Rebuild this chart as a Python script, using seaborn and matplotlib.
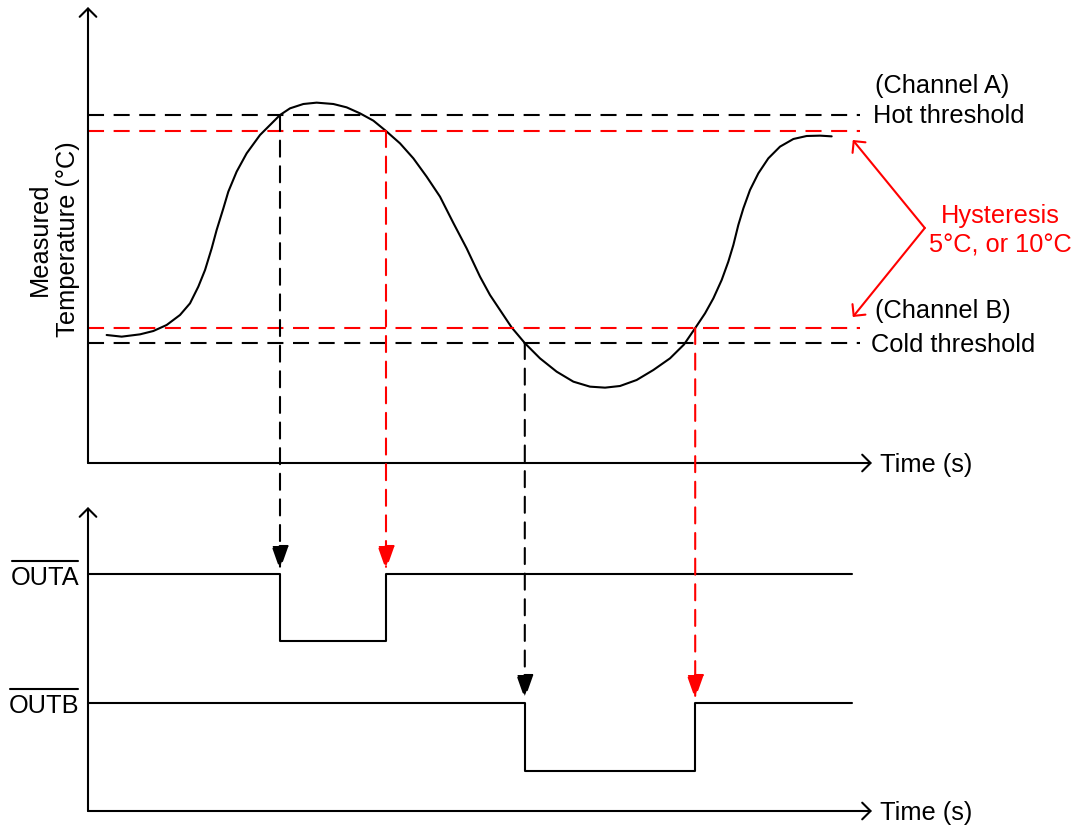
import matplotlib
matplotlib.use("Agg")
import matplotlib.pyplot as plt
import seaborn as sns
import pandas as pd
from matplotlib.patches import ConnectionPatch
from matplotlib.lines import Line2D

# ---------------- data ----------------
# measured temperature curve (time in s, temperature in degC, arbitrary units)
time_s = [2.33, 4.21, 6.5, 8.17, 9.83, 11.5, 12.75, 13.79, 14.63, 15.46, 16.08, 16.92,
          17.54, 18.58, 19.83, 21.5, 22.96, 24.0, 25.25, 26.92, 28.58, 30.67, 32.33,
          34.0, 35.67, 37.25, 39.0, 40.67, 42.33, 44.0, 45.67, 47.33, 49.0, 50.25,
          51.5, 52.96, 54.63, 56.5, 58.58, 60.67, 62.75, 64.63, 66.5, 68.58, 70.67,
          72.75, 74.5, 75.88, 77.13, 78.17, 79.21, 80.04, 80.67, 81.29, 81.92, 82.75,
          83.79, 85.04, 86.5, 88.17, 89.83, 91.5, 92.96]
temp_c = [25.6, 25.27, 25.73, 26.4, 27.6, 29.6, 31.93, 35.27, 38.6, 42.93, 46.6, 50.93,
          54.27, 58.27, 61.93, 65.6, 67.93, 69.6, 70.93, 71.8, 72.07, 71.8, 71.13,
          69.93, 68.47, 66.4, 63.93, 60.93, 57.27, 53.27, 48.0, 42.93, 37.27, 33.6,
          30.6, 27.1, 23.93, 20.93, 18.27, 16.27, 15.27, 15.07, 15.4, 16.6, 18.6,
          20.93, 23.7, 26.93, 29.93, 32.93, 36.6, 40.27, 43.6, 47.6, 50.93, 54.6,
          57.93, 60.93, 63.27, 64.8, 65.4, 65.47, 65.33]

# thresholds (black = trip, red = trip minus hysteresis)
hot_threshold = 69.6
hot_release = 66.4
cold_threshold = 24.0
cold_release = 27.0
threshold_span = [0.0, 96.5]

# crossing times
hot_trip_t = 24.0
hot_release_t = 37.25
cold_trip_t = 54.6
cold_release_t = 75.9

# digital outputs (step signals)
outa_t = [0.0, hot_trip_t, hot_release_t, 95.5]
outa_level = [23.7, 17.0, 23.7, 23.7]
outb_t = [0.0, cold_trip_t, cold_release_t, 95.5]
outb_level = [10.8, 4.0, 10.8, 10.8]

# ---------------- style ----------------
sns.set_theme(style="white")
plt.rcParams["font.family"] = ["Liberation Sans", "DejaVu Sans"]
plt.rcParams["text.color"] = "black"

FS = 18.3
LW = 1.5
RED = "#ff0000"
DASH = (7.7, 4.6)

W, H = 1078, 825
fig = plt.figure(figsize=(W / 100, H / 100), dpi=100)
ax_top = fig.add_axes([88 / W, 1 - 463 / H, 784 / W, 456 / H])
ax_bot = fig.add_axes([88 / W, 1 - 811 / H, 784 / W, 304 / H])

ax_top.set_xlim(0, 98)
ax_top.set_ylim(0, 91.2)
ax_bot.set_xlim(0, 98)
ax_bot.set_ylim(0, 30.4)
for ax in (ax_top, ax_bot):
    ax.set_axis_off()
    arrow_kw = dict(arrowstyle="->,head_length=6,head_width=6", mutation_scale=1,
                    lw=LW, color="black", shrinkA=0, shrinkB=0)
    ax.annotate("", xy=(0, 1), xytext=(0, 0), xycoords="axes fraction",
                arrowprops=arrow_kw, annotation_clip=False)
    ax.annotate("", xy=(1, 0), xytext=(0, 0), xycoords="axes fraction",
                arrowprops=arrow_kw, annotation_clip=False)

# temperature curve
curve = pd.DataFrame({"time": time_s, "temp": temp_c})
sns.lineplot(data=curve, x="time", y="temp", ax=ax_top, color="black", lw=LW,
             sort=False, estimator=None, clip_on=False,
             solid_joinstyle="round", solid_capstyle="round")

# threshold lines
for level, col in [(hot_threshold, "black"), (hot_release, RED),
                   (cold_release, RED), (cold_threshold, "black")]:
    ax_top.plot(threshold_span, [level, level], color=col, lw=LW, dashes=DASH,
                clip_on=False)

# digital signals
sns.lineplot(x=outa_t, y=outa_level, ax=ax_bot, color="black", lw=LW,
             sort=False, estimator=None, drawstyle="steps-post", clip_on=False)
sns.lineplot(x=outb_t, y=outb_level, ax=ax_bot, color="black", lw=LW,
             sort=False, estimator=None, drawstyle="steps-post", clip_on=False)

# dashed arrows from crossings to outputs
links = [(hot_trip_t, hot_threshold, outa_level[0], "black"),
         (hot_release_t, hot_release, outa_level[0], RED),
         (cold_trip_t, cold_threshold, outb_level[0], "black"),
         (cold_release_t, cold_release, outb_level[0], RED)]
for t, thr, lvl, col in links:
    con = ConnectionPatch(xyA=(t, thr), coordsA=ax_top.transData,
                          xyB=(t, lvl), coordsB=ax_bot.transData,
                          arrowstyle="-|>,head_length=15,head_width=5.3",
                          mutation_scale=1, shrinkA=0, shrinkB=2.9,
                          color=col, lw=LW, linestyle=(0, DASH))
    fig.add_artist(con)

# hysteresis arrows
hyst_kw = dict(arrowstyle="->,head_length=6,head_width=6", mutation_scale=1,
               lw=LW, color=RED, shrinkA=0, shrinkB=0)
ax_top.annotate("", xy=(95.6, 64.6), xytext=(104.6, 47.0), arrowprops=hyst_kw,
                annotation_clip=False)
ax_top.annotate("", xy=(95.6, 29.2), xytext=(104.6, 47.0), arrowprops=hyst_kw,
                annotation_clip=False)

# texts
ax_top.text(114.0, 48.0, "Hysteresis", color=RED, fontsize=FS, ha="center", va="baseline")
ax_top.text(114.0, 42.0, "5°C, or 10°C", color=RED, fontsize=FS, ha="center", va="baseline")
ax_top.text(98.4, 74.0, "(Channel A)", fontsize=FS, ha="left", va="baseline")
ax_top.text(98.1, 68.0, "Hot threshold", fontsize=FS, ha="left", va="baseline")
ax_top.text(98.4, 29.0, "(Channel B)", fontsize=FS, ha="left", va="baseline")
ax_top.text(97.9, 22.2, "Cold threshold", fontsize=FS, ha="left", va="baseline")
ax_top.text(99.0, -1.8, "Time (s)", fontsize=FS, ha="left", va="baseline")
ax_top.text(-4.3, 44.8, "Measured\nTemperature (°C)", fontsize=FS, rotation=90,
            ha="center", va="center", multialignment="center")

ax_bot.text(99.0, -0.9, "Time (s)", fontsize=FS, ha="left", va="baseline")
out_labels = [ax_bot.text(-1.1, 22.6, "OUTA", fontsize=FS, ha="right", va="baseline"),
              ax_bot.text(-1.1, 9.8, "OUTB", fontsize=FS, ha="right", va="baseline")]

# overlines (active-low signal names), placed just above each label
fig.canvas.draw()
renderer = fig.canvas.get_renderer()
for lab in out_labels:
    bb = lab.get_window_extent(renderer)
    y = bb.y1 + 5
    fig.add_artist(Line2D([bb.x0 + 1, bb.x1 - 1], [y, y], transform=None,
                          color="black", lw=LW))

fig.savefig("out.png", dpi=100)
